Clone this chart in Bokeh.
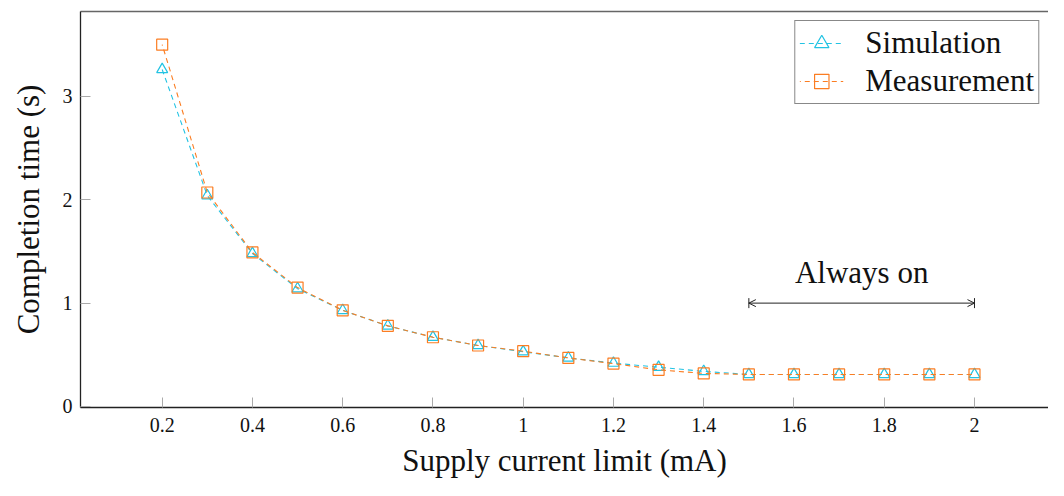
from bokeh.plotting import figure
from bokeh.models import (Range1d, LinearAxis, FixedTicker, Legend, LegendItem,
                          Label, Arrow, TeeHead, OpenHead, ColumnDataSource)
from bokeh.embed import file_html
from bokeh.resources import INLINE

# ---------------- data ----------------
current_ma = [0.2, 0.3, 0.4, 0.5, 0.6, 0.7, 0.8, 0.9, 1.0, 1.1,
              1.2, 1.3, 1.4, 1.5, 1.6, 1.7, 1.8, 1.9, 2.0]
simulation_s = [3.26, 2.04, 1.48, 1.14, 0.93, 0.78, 0.67, 0.59, 0.53, 0.47,
                0.42, 0.38, 0.34, 0.31, 0.31, 0.31, 0.31, 0.31, 0.31]
measurement_s = [3.50, 2.07, 1.49, 1.15, 0.93, 0.78, 0.67, 0.59, 0.535, 0.47,
                 0.415, 0.355, 0.32, 0.31, 0.31, 0.31, 0.31, 0.31, 0.31]
x_ticks = [0.2, 0.4, 0.6, 0.8, 1.0, 1.2, 1.4, 1.6, 1.8, 2.0]
y_ticks = [0, 1, 2, 3]
always_on_range = [1.5, 2.0]
always_on_level = 1.0
always_on_text = "Always on"

FONT = "Liberation Serif"
CYAN = "#22c3e3"
ORANGE = "#fb7d22"

p = figure(width=1048, height=480, output_backend="svg", toolbar_location=None,
           x_range=Range1d(0.019, 2.164), y_range=Range1d(-0.0097, 3.821),
           min_border_left=80, min_border_right=0, min_border_top=11,
           min_border_bottom=72)
p.outline_line_color = None
p.grid.visible = False
p.background_fill_color = "white"
p.border_fill_color = "white"

src = ColumnDataSource(dict(x=current_ma, sim=simulation_s, meas=measurement_s))

l1 = p.line("x", "sim", source=src, line_color=CYAN, line_width=1.1, line_dash="5 4")
m1 = p.scatter("x", "sim", source=src, marker="triangle", size=11,
               line_color=CYAN, fill_color=None, line_width=1.2)
l2 = p.line("x", "meas", source=src, line_color=ORANGE, line_width=1.1,
            line_dash="5 4", line_dash_offset=4)
m2 = p.scatter("x", "meas", source=src, marker="square", size=11,
               line_color=ORANGE, fill_color=None, line_width=1.2)

# axes styling
for ax in (p.xaxis[0], p.yaxis[0]):
    ax.axis_line_color = "#222222"
    ax.axis_line_width = 1.3
    ax.major_tick_in = 10
    ax.major_tick_out = 0
    ax.major_tick_line_color = "#aaaaaa"
    ax.major_tick_line_width = 1
    ax.minor_tick_line_color = None
    ax.major_label_text_font = FONT
    ax.major_label_text_font_size = "20px"
    ax.major_label_text_color = "#111111"
    ax.axis_label_text_font = FONT
    ax.axis_label_text_font_size = "31px"
    ax.axis_label_text_font_style = "normal"
    ax.axis_label_text_color = "#111111"

p.xaxis[0].ticker = FixedTicker(ticks=x_ticks)
p.yaxis[0].ticker = FixedTicker(ticks=y_ticks)
p.xaxis[0].major_label_overrides = {t: ("%g" % t) for t in x_ticks}
p.xaxis[0].major_label_standoff = 10
p.yaxis[0].major_label_standoff = 8
p.xaxis[0].axis_label = "Supply current limit (mA)"
p.yaxis[0].axis_label = "Completion time (s)"
p.xaxis[0].axis_label_standoff = 8
p.yaxis[0].axis_label_standoff = 14

top = LinearAxis(ticker=FixedTicker(ticks=[]), major_label_text_font_size="0px",
                 axis_line_color="#666666", axis_line_width=1.3,
                 major_tick_line_color=None, minor_tick_line_color=None)
p.add_layout(top, "above")

# annotation: Always on
p.add_layout(Arrow(x_start=always_on_range[0], y_start=always_on_level,
                   x_end=always_on_range[1], y_end=always_on_level,
                   line_color="#222222", line_width=1,
                   start=TeeHead(size=10, line_color="#222222", line_width=1),
                   end=TeeHead(size=10, line_color="#222222", line_width=1)))
p.add_layout(Arrow(x_start=always_on_range[0], y_start=always_on_level,
                   x_end=always_on_range[1], y_end=always_on_level,
                   line_color=None,
                   start=OpenHead(size=7, line_color="#222222", line_width=1),
                   end=OpenHead(size=7, line_color="#222222", line_width=1)))
p.add_layout(Label(x=sum(always_on_range) / 2, y=always_on_level, text=always_on_text,
                   text_align="center", text_baseline="bottom", y_offset=13,
                   text_font=FONT, text_font_size="31px", text_color="#111111"))

legend = Legend(items=[LegendItem(label="Simulation", renderers=[l1, m1]),
                       LegendItem(label="Measurement", renderers=[l2, m2])],
                location="top_right")
legend.label_text_font = FONT
legend.label_text_font_size = "31px"
legend.label_text_color = "#111111"
legend.border_line_color = "#111111"
legend.border_line_width = 1.3
legend.glyph_width = 44
legend.glyph_height = 36
legend.label_height = 36
legend.label_standoff = 22
legend.padding = 4
legend.spacing = 2
legend.margin = 9
legend.background_fill_alpha = 1
p.add_layout(legend)

open("out.html", "w").write(file_html(p, INLINE))
